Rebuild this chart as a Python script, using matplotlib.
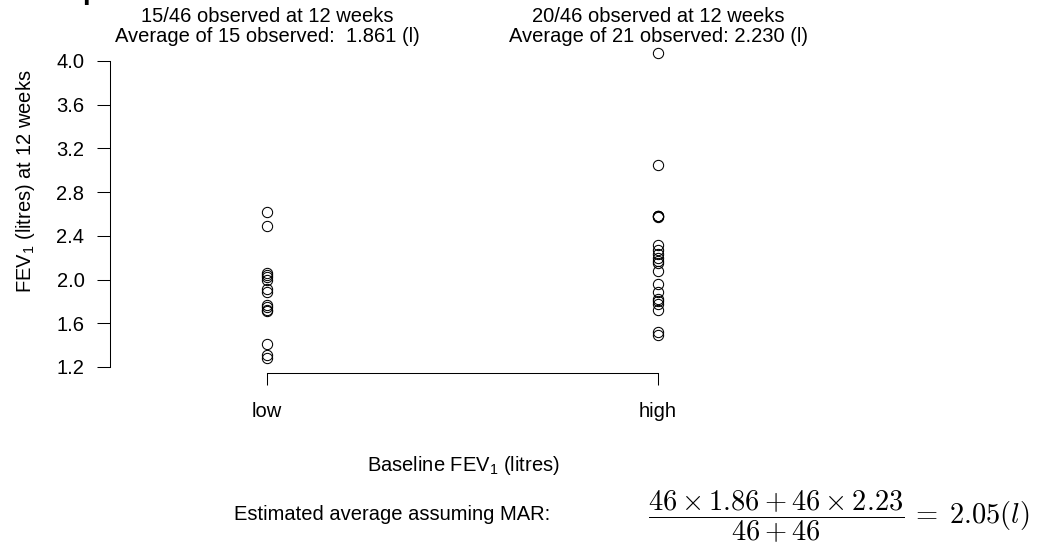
import numpy as np
import matplotlib
matplotlib.use("Agg")
import matplotlib.pyplot as plt
from matplotlib.transforms import blended_transform_factory

plt.rcParams['font.family'] = ['Liberation Sans', 'DejaVu Sans']
plt.rcParams['mathtext.fontset'] = 'custom'
plt.rcParams['mathtext.rm'] = 'Liberation Sans'
plt.rcParams['mathtext.it'] = 'Liberation Sans:italic'

# FEV1 at 12 weeks
groups = ['low', 'high']
fev_low = [2.62, 2.49, 2.06, 2.04, 2.02, 2.00, 1.91, 1.89, 1.77, 1.75,
           1.72, 1.71, 1.41, 1.31, 1.28]
fev_high = [4.07, 3.05, 2.58, 2.58, 2.58, 2.57, 2.32, 2.27, 2.23, 2.20,
            2.17, 2.15, 2.08, 1.96, 1.89, 1.82, 1.80, 1.78, 1.72, 1.52, 1.49]
yticks = [1.2, 1.6, 2.0, 2.4, 2.8, 3.2, 3.6, 4.0]
headers = [('15/46 observed at 12 weeks', 'Average of 15 observed:  1.861 (l)'),
           ('20/46 observed at 12 weeks', 'Average of 21 observed: 2.230 (l)')]

W, H = 1042, 551
FS = 14.5
fig = plt.figure(figsize=(W / 100, H / 100), dpi=100)
ax = fig.add_axes([110 / W, (H - 373) / H, (815 - 110) / W, (373 - 40) / H])

for i, vals in enumerate([fev_low, fev_high]):
    ax.plot(np.full(len(vals), i + 1), vals, 'o', mfc='none', mec='black',
            ms=7.4, mew=0.75, ls='none')

ax.set_xlim(0.5985, 2.4015)
ax.set_ylim(1.145, 4.192)

for s in ['top', 'right']:
    ax.spines[s].set_visible(False)
ax.spines['left'].set_bounds(1.2, 4.0)
ax.spines['bottom'].set_bounds(1, 2)
for s in ['left', 'bottom']:
    ax.spines[s].set_linewidth(0.75)

ax.set_yticks(yticks)
ax.set_yticklabels(['%.1f' % v for v in yticks])
ax.set_xticks([1, 2])
ax.set_xticklabels(groups)
ax.tick_params(axis='y', length=9.4, width=0.75, pad=9, labelsize=FS)
ax.tick_params(axis='x', length=8.6, width=0.75, pad=12, labelsize=FS)

ax.set_ylabel('FEV$_1$ (litres) at 12 weeks', fontsize=FS)
ax.yaxis.set_label_coords(-(110 - 37) / (815 - 110), (373 - 181) / (373 - 40))
ax.set_xlabel('Baseline FEV$_1$ (litres)', fontsize=FS)
ax.xaxis.set_label_coords((463 - 110) / (815 - 110), -(454 - 373) / (373 - 40))

tr = blended_transform_factory(ax.transData, fig.transFigure)
for i, (l1, l2) in enumerate(headers):
    ax.text(i + 1, 1 - 17 / H, l1, transform=tr, ha='center', va='center', fontsize=FS)
    ax.text(i + 1, 1 - 36 / H, l2, transform=tr, ha='center', va='center', fontsize=FS)

# clipped title at the very top
fig.text(82 / W, 1 + 1 / H, 'p', fontsize=20, fontweight='bold', ha='left', va='baseline')

fig.text(550 / W, 1 - 514 / H, 'Estimated average assuming MAR:', ha='right',
         va='center', fontsize=FS)
fig.text(648 / W, 1 - 517 / H,
         r'$\dfrac{46\times1.86+46\times2.23}{46+46}\,=\;2.05(l)$',
         ha='left', va='center', fontsize=20.5, math_fontfamily='cm')

fig.savefig('out.png', dpi=100)
